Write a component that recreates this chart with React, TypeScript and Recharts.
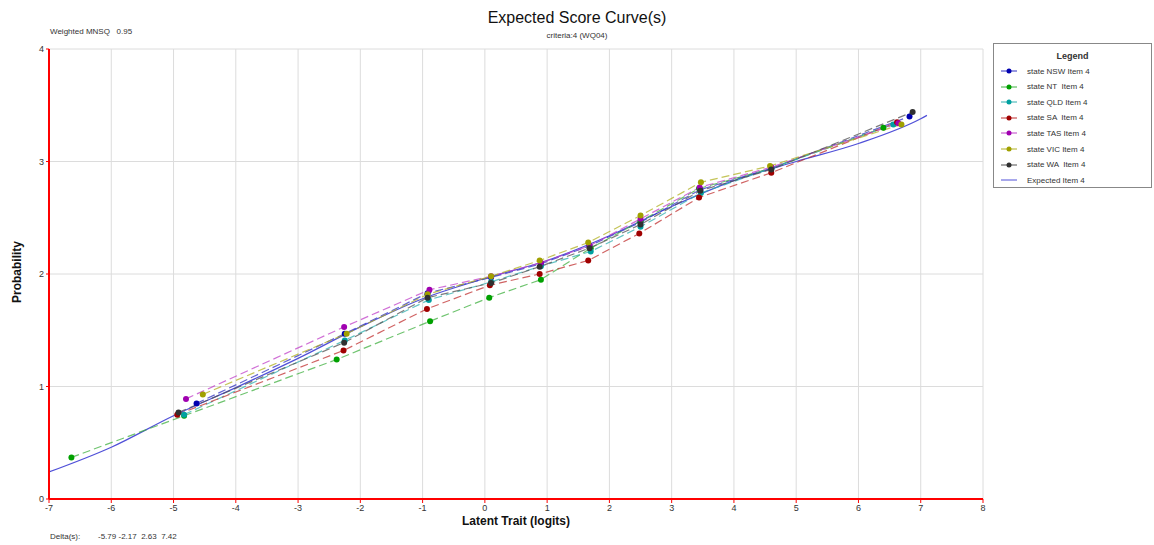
import { LineChart, Line, XAxis, YAxis, CartesianGrid } from 'recharts';

const xTicks = [-7, -6, -5, -4, -3, -2, -1, 0, 1, 2, 3, 4, 5, 6, 7, 8];
const yTicks = [0, 1, 2, 3, 4];

const nswX = [-4.63, -2.25, -0.92, 0.1, 0.9, 1.68, 2.5, 3.46, 4.6, 6.82];
const nswY = [0.85, 1.47, 1.83, 1.97, 2.09, 2.25, 2.46, 2.75, 2.94, 3.4];
const ntX = [-6.64, -4.83, -2.38, -0.88, 0.07, 0.9, 1.7, 2.5, 3.44, 4.6, 6.4];
const ntY = [0.37, 0.74, 1.24, 1.58, 1.79, 1.95, 2.23, 2.47, 2.76, 2.94, 3.3];
const qldX = [-4.83, -2.25, -0.9, 0.1, 0.9, 1.7, 2.5, 3.47, 4.6, 6.56];
const qldY = [0.75, 1.41, 1.77, 1.93, 2.07, 2.2, 2.42, 2.72, 2.94, 3.33];
const saX = [-4.94, -2.27, -0.93, 0.08, 0.88, 1.66, 2.48, 3.44, 4.6, 6.62];
const saY = [0.75, 1.32, 1.69, 1.9, 2.0, 2.12, 2.36, 2.68, 2.9, 3.35];
const tasX = [-4.8, -2.26, -0.89, 0.1, 0.9, 1.68, 2.5, 3.45, 4.6, 6.64];
const tasY = [0.89, 1.53, 1.86, 1.98, 2.1, 2.25, 2.49, 2.77, 2.95, 3.34];
const vicX = [-4.53, -2.22, -0.92, 0.1, 0.88, 1.66, 2.5, 3.47, 4.58, 6.69];
const vicY = [0.93, 1.47, 1.82, 1.98, 2.12, 2.28, 2.52, 2.815, 2.96, 3.33];
const waX = [-4.92, -2.26, -0.92, 0.1, 0.88, 1.68, 2.5, 3.46, 4.6, 6.87];
const waY = [0.77, 1.39, 1.79, 1.92, 2.065, 2.23, 2.44, 2.74, 2.93, 3.44];

const expX = [-7, -6, -5, -4, -3, -2, -1, 0, 1, 2, 3, 4, 5, 6, 7, 7.1];
const expY = [0.24, 0.46, 0.74, 0.99, 1.25, 1.53, 1.78, 1.96, 2.12, 2.34, 2.6, 2.83, 3.0, 3.16, 3.38, 3.41];

const toPts = (xs: number[], ys: number[]) => xs.map((x, i) => ({ x, y: ys[i] }));

const states = [
  { name: 'state NSW Item 4', color: '#0000b0', line: '#3030c0', data: toPts(nswX, nswY) },
  { name: 'state NT  Item 4', color: '#00a000', line: '#40b040', data: toPts(ntX, ntY) },
  { name: 'state QLD Item 4', color: '#00a0a0', line: '#30b0b0', data: toPts(qldX, qldY) },
  { name: 'state SA  Item 4', color: '#a00000', line: '#c03030', data: toPts(saX, saY) },
  { name: 'state TAS Item 4', color: '#a000b0', line: '#c040c8', data: toPts(tasX, tasY) },
  { name: 'state VIC Item 4', color: '#a0a000', line: '#b0b020', data: toPts(vicX, vicY) },
  { name: 'state WA  Item 4', color: '#303030', line: '#505050', data: toPts(waX, waY) },
];
const expected = { name: 'Expected Item 4', color: '#5050d8', data: toPts(expX, expY) };

const font = '"Liberation Sans", Arial, sans-serif';
const tick = { fill: '#333', fontSize: 9, fontFamily: font };

export default function App() {
  return (
    <div style={{ position: 'fixed', left: 0, top: 0, width: 1154, height: 545, background: '#fff', fontFamily: font }}>
      <LineChart width={1154} height={545} margin={{ top: 49, right: 171, left: 29, bottom: 26 }}>
        <CartesianGrid stroke="#dcdcdc" />
        <XAxis
          type="number"
          dataKey="x"
          domain={[-7, 8]}
          ticks={xTicks}
          interval={0}
          height={20}
          axisLine={{ stroke: '#ff0000', strokeWidth: 2 }}
          tickLine={{ stroke: '#ff0000' }}
          tickSize={4}
          tick={tick}
          allowDataOverflow
        />
        <YAxis
          type="number"
          domain={[0, 4]}
          ticks={yTicks}
          width={20}
          axisLine={{ stroke: '#ff0000', strokeWidth: 2 }}
          tickLine={{ stroke: '#ff0000' }}
          tickSize={3}
          tick={tick}
        />
        <Line
          data={expected.data}
          dataKey="y"
          type="monotone"
          stroke={expected.color}
          strokeWidth={1.2}
          dot={false}
          isAnimationActive={false}
        />
        {states.map((s) => (
          <Line
            key={s.name}
            data={s.data}
            dataKey="y"
            type="linear"
            stroke={s.line}
            strokeOpacity={0.75}
            strokeWidth={1.2}
            strokeDasharray="8 4"
            dot={{ r: 3, fill: s.color, stroke: s.color, strokeWidth: 0, strokeDasharray: '' }}
            isAnimationActive={false}
          />
        ))}
      </LineChart>

      <div style={{ position: 'absolute', left: 0, width: 1154, top: 9, textAlign: 'center', fontSize: 16, color: '#111' }}>
        Expected Score Curve(s)
      </div>
      <div style={{ position: 'absolute', left: 0, width: 1154, top: 31, textAlign: 'center', fontSize: 8, color: '#333' }}>
        criteria:4 (WQ04)
      </div>
      <div style={{ position: 'absolute', left: 50, top: 27, fontSize: 8, color: '#333', whiteSpace: 'pre' }}>
        {'Weighted MNSQ   0.95'}
      </div>
      <div
        style={{
          position: 'absolute', left: 17, top: 272, fontSize: 12, fontWeight: 'bold', color: '#111',
          transform: 'translate(-50%, -50%) rotate(-90deg)', whiteSpace: 'nowrap',
        }}
      >
        Probability
      </div>
      <div style={{ position: 'absolute', left: 49, width: 934, top: 514, textAlign: 'center', fontSize: 12, fontWeight: 'bold', color: '#111' }}>
        Latent Trait (logits)
      </div>
      <div style={{ position: 'absolute', left: 50, top: 532, fontSize: 8, color: '#333', whiteSpace: 'pre' }}>
        {'Delta(s):        -5.79 -2.17  2.63  7.42'}
      </div>

      <div
        style={{
          position: 'absolute', left: 993, top: 43, width: 157, height: 143, border: '1px solid #888',
          background: '#fff', fontSize: 8, color: '#333',
        }}
      >
        <div style={{ textAlign: 'center', fontWeight: 'bold', marginTop: 7, fontSize: 9 }}>Legend</div>
        {[...states, { name: expected.name, color: expected.color, line: expected.color, data: [] }].map((s, i) => (
          <div key={s.name} style={{ position: 'absolute', left: 6, top: 21 + i * 15.6, height: 12, display: 'flex', alignItems: 'center' }}>
            <svg width={18} height={12}>
              <line x1={1} y1={6} x2={17} y2={6} stroke={s.line} strokeWidth={1} />
              {i < states.length && <circle cx={9} cy={6} r={2.5} fill={s.color} />}
            </svg>
            <span style={{ marginLeft: 9, whiteSpace: 'pre' }}>{s.name}</span>
          </div>
        ))}
      </div>
    </div>
  );
}
